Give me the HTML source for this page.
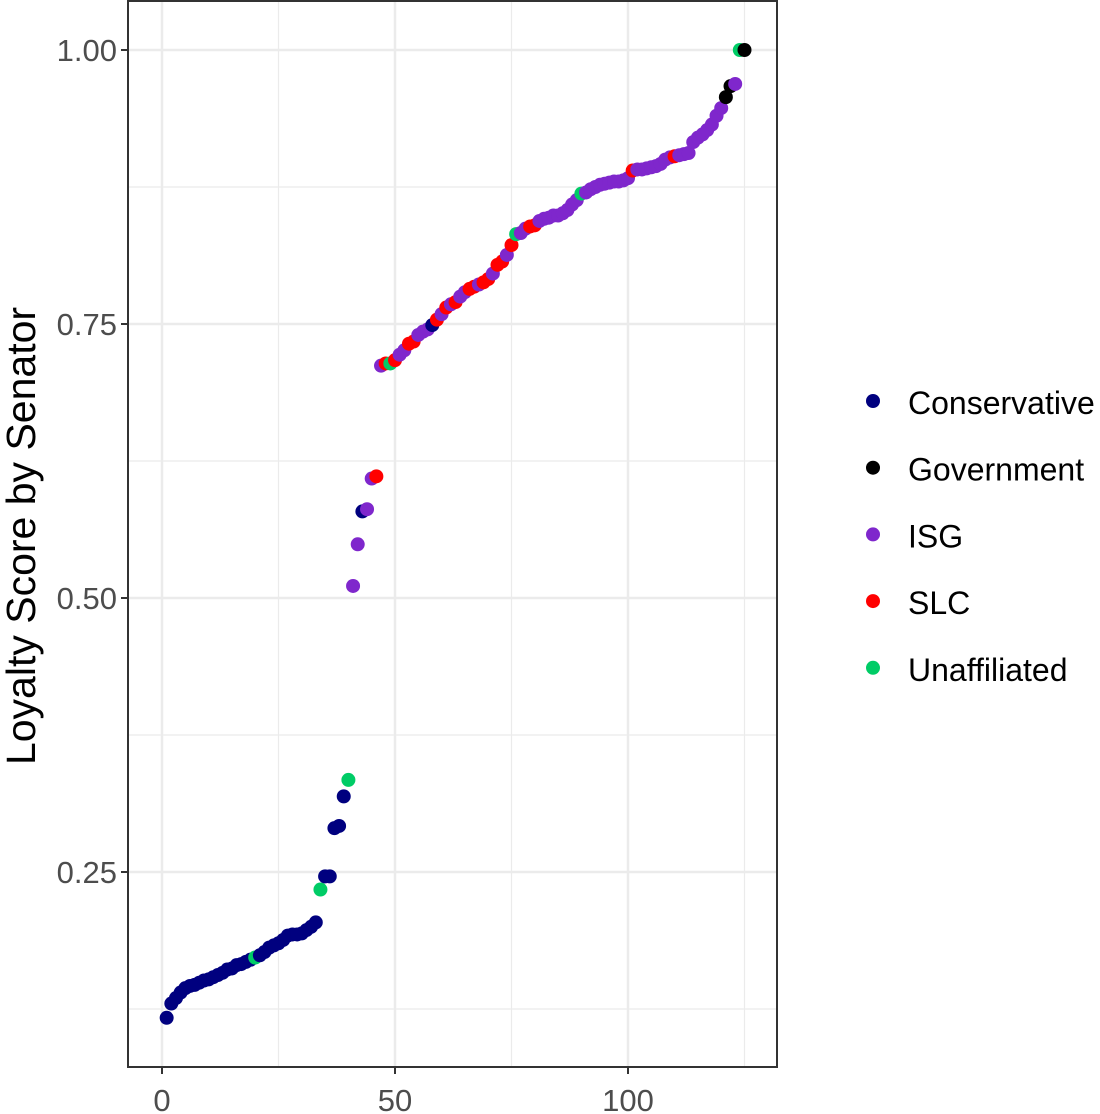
<!DOCTYPE html>
<html><head><meta charset="utf-8"><style>
body{margin:0;background:#fff;}
svg{display:block;font-family:"Liberation Sans",sans-serif;}
</style></head><body>
<svg id="chart" width="1100" height="1114" viewBox="0 0 1100 1114" xmlns="http://www.w3.org/2000/svg">
<g id="grid"></g>
<g id="points"></g>
<rect x="128" y="1" width="649" height="1066" fill="none" stroke="#333" stroke-width="2"/>
<g id="axes"></g>
<text transform="translate(35,536) rotate(-90)" text-anchor="middle" font-size="41" fill="#000">Loyalty Score by Senator</text>
<g id="legend"></g>
</svg>
<script>
const values=[0.117,0.130,0.135,0.140,0.144,0.146,0.147,0.149,0.151,0.152,0.154,0.156,0.158,0.161,0.162,0.165,0.166,0.168,0.170,0.172,0.174,0.177,0.181,0.183,0.185,0.188,0.192,0.193,0.193,0.194,0.197,0.200,0.204,0.234,0.246,0.246,0.290,0.292,0.319,0.334,0.511,0.549,0.579,0.581,0.609,0.611,0.712,0.714,0.714,0.717,0.722,0.726,0.732,0.734,0.740,0.743,0.745,0.749,0.754,0.759,0.765,0.768,0.770,0.775,0.779,0.782,0.784,0.786,0.788,0.791,0.796,0.804,0.807,0.813,0.822,0.832,0.833,0.837,0.839,0.840,0.844,0.846,0.847,0.849,0.849,0.851,0.854,0.859,0.863,0.869,0.870,0.873,0.875,0.877,0.878,0.879,0.880,0.880,0.881,0.883,0.890,0.891,0.891,0.892,0.893,0.894,0.896,0.900,0.902,0.903,0.904,0.905,0.906,0.916,0.920,0.923,0.927,0.932,0.940,0.947,0.957,0.967,0.969,1.0,1.0];
const groups=("CCCCCCCCCC"+"CCCCCCCCCU"+"CCCCCCCCCC"+"CCCUCCCCCU"+"IICIISISUS"+"IISSIIICSI"+"SISIISSISS"+"ISSISUIISS"+"IIIIIIIIIU"+"IIIIIIIIII"+"SIIIIIIIIS"+"IIIIIIIIII"+"GGIUG");
const legendLabels=["Conservative","Government","ISG","SLC","Unaffiliated"];
const legendKeys=["C","G","I","S","U"];
const xTicks=[0,50,100];
const yTicks=[0.25,0.50,0.75,1.00];
const yMinor=[0.125,0.375,0.625,0.875];
const xMinor=[25,75,125];
const colors={C:"#00007F",G:"#000000",I:"#7F27CC",S:"#FF0000",U:"#00CC66"};
const NS="http://www.w3.org/2000/svg";
const xs=v=>162+v*4.66;
const ys=v=>50+(1-v)*1096;
function mk(t,a,p){const e=document.createElementNS(NS,t);for(const k in a)e.setAttribute(k,a[k]);p.appendChild(e);return e;}
const grid=document.getElementById('grid');
const axes=document.getElementById('axes');
mk('rect',{x:128,y:1,width:649,height:1066,fill:'#fff'},grid);
yMinor.forEach(v=>{const l=mk('line',{x1:128,x2:777,y1:ys(v),y2:ys(v),stroke:'#ebebeb','stroke-width':1.2},grid);

});
xMinor.forEach(v=>{const l=mk('line',{x1:xs(v),x2:xs(v),y1:1,y2:1067,stroke:'#ebebeb','stroke-width':1.2},grid);

});
yTicks.forEach(v=>{const l=mk('line',{x1:128,x2:777,y1:ys(v),y2:ys(v),stroke:'#ebebeb','stroke-width':2.5},grid);


const t=mk('line',{x1:121,x2:128,y1:ys(v),y2:ys(v),stroke:'#333','stroke-width':2},axes);


const tx=mk('text',{x:117,y:ys(v)+11,'text-anchor':'end','font-size':31,fill:'#4d4d4d'},axes);
tx.textContent=v.toFixed(2);

});
xTicks.forEach(v=>{const l=mk('line',{x1:xs(v),x2:xs(v),y1:1,y2:1067,stroke:'#ebebeb','stroke-width':2.5},grid);


const t=mk('line',{x1:xs(v),x2:xs(v),y1:1067,y2:1074,stroke:'#333','stroke-width':2},axes);


const tx=mk('text',{x:xs(v),y:1111,'text-anchor':'middle','font-size':31,fill:'#4d4d4d'},axes);
tx.textContent=v;

});
const pts=document.getElementById('points');
values.forEach((v,i)=>{const c=mk('circle',{cx:xs(i+1),cy:ys(v),r:7,fill:colors[groups[i]]},pts);

});
const lg=document.getElementById('legend');
legendLabels.forEach((lab,i)=>{const y=403+i*66.7;
const c=mk('circle',{cx:873,cy:y-2,r:7,fill:colors[legendKeys[i]]},lg);


const t=mk('text',{x:908,y:y+11,'font-size':32,fill:'#000'},lg);
t.textContent=lab;

});
</script>
</body></html>
